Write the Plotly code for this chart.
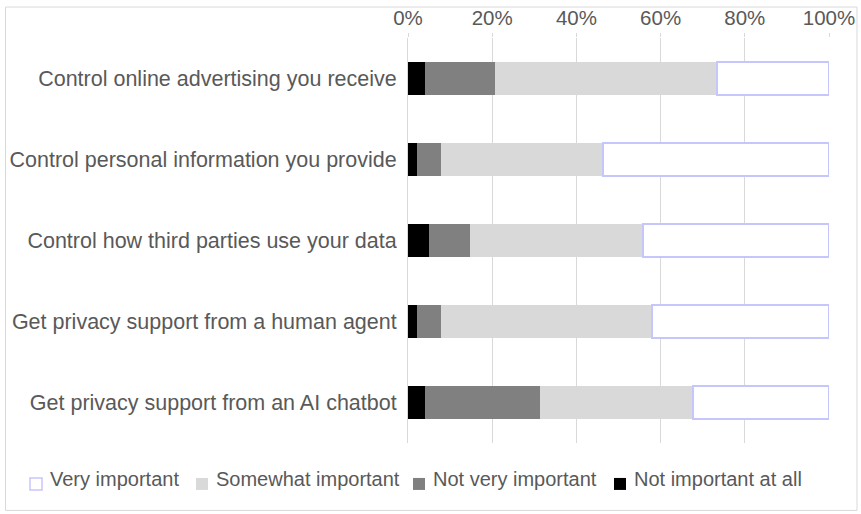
import plotly.graph_objects as go

categories = [
    "Control online advertising you receive",
    "Control personal information you provide",
    "Control how third parties use your data",
    "Get privacy support from a human agent",
    "Get privacy support from an AI chatbot",
]
not_important_at_all = [4.0, 2.1, 5.0, 2.1, 4.0]
not_very_important = [16.7, 5.7, 9.7, 5.7, 27.4]
somewhat_important = [52.8, 38.4, 41.2, 50.1, 36.2]
very_important = [26.5, 53.8, 44.1, 42.1, 32.4]
x_ticks = [0, 20, 40, 60, 80, 100]
x_tick_labels = ["0%", "20%", "40%", "60%", "80%", "100%"]

series_names = ["Not important at all", "Not very important", "Somewhat important", "Very important"]
series_values = [not_important_at_all, not_very_important, somewhat_important, very_important]
series_fill = ["#000000", "#808080", "#d9d9d9", "#ffffff"]
series_line = [None, None, None, "#c6c6ff"]

TXT = "#595959"
GRID = "#d9d9d9"
FONT = "Liberation Sans"

fig = go.Figure()
for name, vals, fill, ln in zip(series_names, series_values, series_fill, series_line):
    line = dict(color=ln, width=2) if ln else dict(width=0)
    fig.add_trace(go.Bar(y=categories, x=vals, orientation="h", name=name,
                         marker=dict(color=fill, line=line), showlegend=False))

L, R, T, B = 408, 829, 37.5, 443
W, H = 861, 514

def px_x(p):
    return (p - L) / (R - L)

def px_y(p):
    return (B - p) / (B - T)

shapes = [dict(type="rect", xref="paper", yref="paper",
               x0=px_x(5.5), x1=px_x(857), y0=px_y(510.5), y1=px_y(6.5),
               line=dict(color=GRID, width=1), fillcolor="rgba(0,0,0,0)", layer="below")]
annotations = []

# manual legend (order: Very important ... Not important at all)
legend_sq_x = [30, 196, 413, 614]
legend_order = [3, 2, 1, 0]
for sx, idx in zip(legend_sq_x, legend_order):
    ln = series_line[idx]
    shapes.append(dict(type="rect", xref="paper", yref="paper",
                       x0=px_x(sx), x1=px_x(sx + 12), y0=px_y(490), y1=px_y(478),
                       fillcolor=series_fill[idx],
                       line=dict(color=ln if ln else series_fill[idx], width=1.5 if ln else 0)))
    annotations.append(dict(xref="paper", yref="paper", x=px_x(sx + 18), y=px_y(479),
                            xanchor="left", yanchor="middle", showarrow=False,
                            text=series_names[idx], font=dict(size=20, color=TXT, family=FONT)))

fig.update_layout(
    width=W, height=H,
    barmode="stack", bargap=0.6,
    margin=dict(l=L, r=W - R, t=T, b=H - B, pad=0, autoexpand=False),
    paper_bgcolor="white", plot_bgcolor="white",
    font=dict(family=FONT, color=TXT, size=20),
    xaxis=dict(range=[0, 100], side="top", tickvals=x_ticks, ticktext=x_tick_labels,
               showgrid=True, gridcolor=GRID, gridwidth=1, zeroline=False,
               ticks="outside", ticklen=4, tickcolor=GRID, tickfont=dict(size=20.5, color=TXT),
               showline=False, fixedrange=True, automargin=False),
    yaxis=dict(autorange="reversed", showgrid=False, showline=True, linecolor=GRID, linewidth=1,
               ticks="", tickfont=dict(size=21.5, color=TXT), ticklabelstandoff=6,
               fixedrange=True, automargin=False),
    shapes=shapes,
    annotations=annotations,
    showlegend=False,
)

fig.write_html("out.html")
